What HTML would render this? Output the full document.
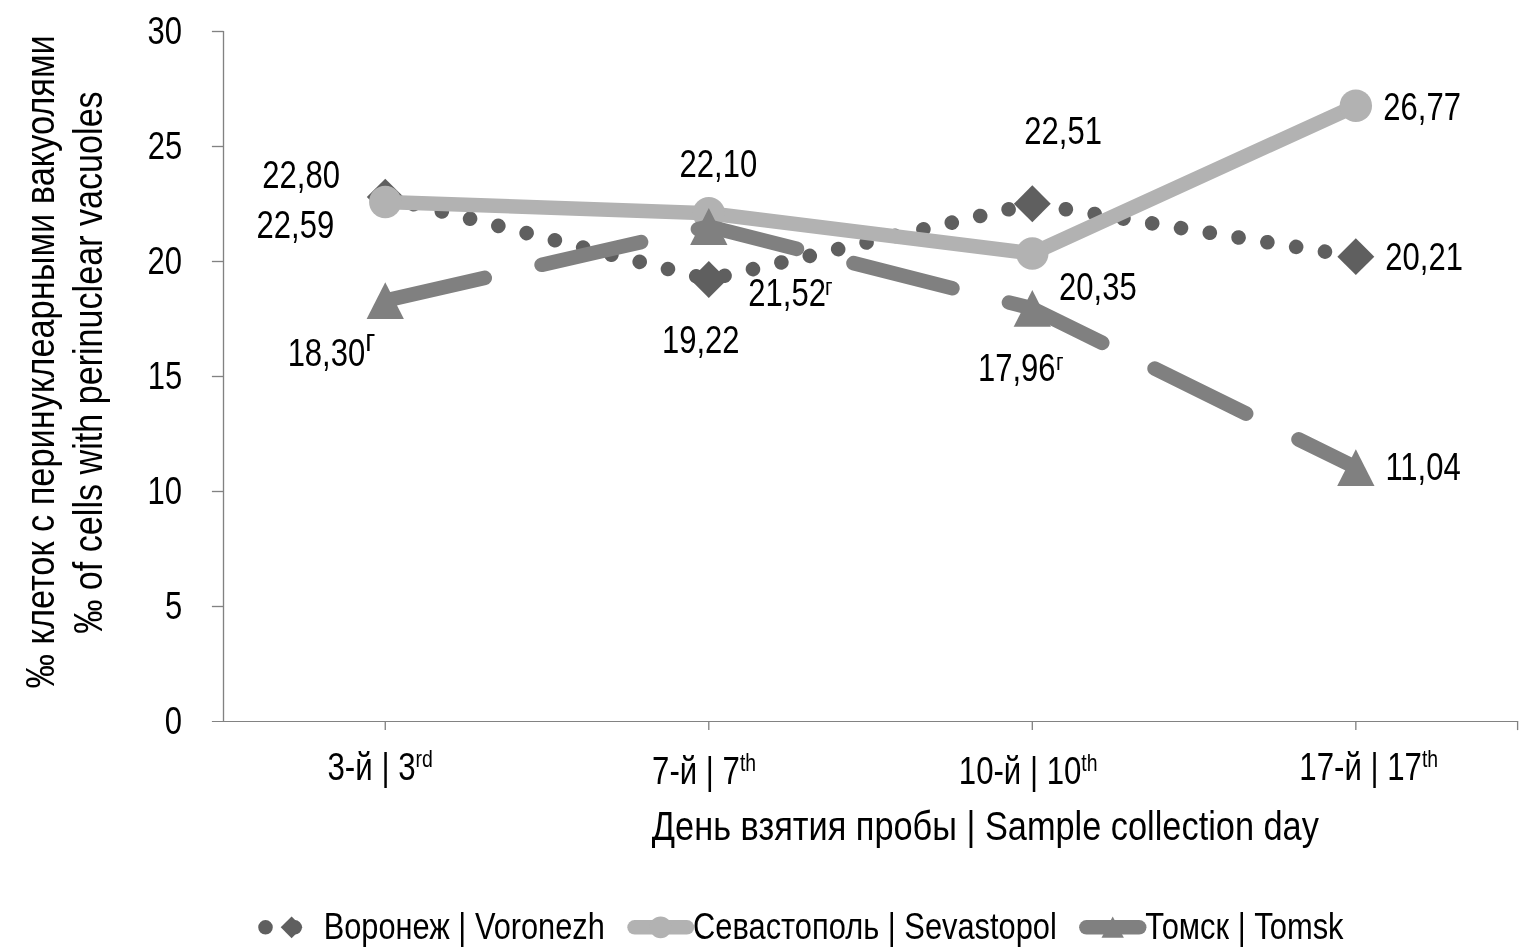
<!DOCTYPE html>
<html lang="ru">
<head>
<meta charset="utf-8">
<title>Perinuclear vacuoles chart</title>
<style>
html,body{margin:0;padding:0;background:#ffffff;}
body{width:1524px;height:950px;overflow:hidden;}
svg{display:block;}
text{font-family:"Liberation Sans", sans-serif;fill:#000000;white-space:pre;}
</style>
</head>
<body>
<svg width="1524" height="950" viewBox="0 0 1524 950">
<rect x="0" y="0" width="1524" height="950" fill="#ffffff"/>
<g stroke="#828282" stroke-width="1.33" fill="none">
<line x1="223.5" y1="30.95" x2="223.5" y2="722.05"/>
<line x1="211.9" y1="721.5" x2="1518.20" y2="721.5" stroke-width="1.1"/>
<line x1="211.9" y1="606.50" x2="223.5" y2="606.50"/>
<line x1="211.9" y1="491.50" x2="223.5" y2="491.50"/>
<line x1="211.9" y1="376.50" x2="223.5" y2="376.50"/>
<line x1="211.9" y1="261.50" x2="223.5" y2="261.50"/>
<line x1="211.9" y1="146.50" x2="223.5" y2="146.50"/>
<line x1="211.9" y1="31.50" x2="223.5" y2="31.50"/>
<line x1="385.26" y1="721.5" x2="385.26" y2="730.1"/>
<line x1="708.79" y1="721.5" x2="708.79" y2="730.1"/>
<line x1="1032.31" y1="721.5" x2="1032.31" y2="730.1"/>
<line x1="1355.84" y1="721.5" x2="1355.84" y2="730.1"/>
<line x1="1517.60" y1="721.5" x2="1517.60" y2="730.1"/>
</g>
<polyline points="385.26,197.10 708.79,279.44 1032.31,203.77 1355.84,256.67" fill="none" stroke="#5f5f5f" stroke-width="14.58" stroke-linecap="round" stroke-linejoin="round" stroke-dasharray="0.01 29.16"/>
<polygon points="385.26,178.65 403.71,197.10 385.26,215.55 366.81,197.10" fill="#5f5f5f"/>
<polygon points="708.79,260.99 727.24,279.44 708.79,297.89 690.34,279.44" fill="#5f5f5f"/>
<polygon points="1032.31,185.32 1050.76,203.77 1032.31,222.22 1013.86,203.77" fill="#5f5f5f"/>
<polygon points="1355.84,238.22 1374.29,256.67 1355.84,275.12 1337.39,256.67" fill="#5f5f5f"/>
<polyline points="385.26,201.93 708.79,213.20 1032.31,253.45 1355.84,105.79" fill="none" stroke="#b2b2b2" stroke-width="14.58" stroke-linecap="round" stroke-linejoin="round"/>
<circle cx="385.26" cy="201.93" r="16.2" fill="#b2b2b2"/>
<circle cx="708.79" cy="213.20" r="16.2" fill="#b2b2b2"/>
<circle cx="1032.31" cy="253.45" r="16.2" fill="#b2b2b2"/>
<circle cx="1355.84" cy="105.79" r="16.2" fill="#b2b2b2"/>
<polyline points="385.26,300.60 708.79,226.54 1032.31,308.42 1355.84,467.58" fill="none" stroke="#808080" stroke-width="14.58" stroke-linecap="round" stroke-linejoin="round" stroke-dasharray="102.06 58.32"/>
<polygon points="385.26,282.15 403.91,319.05 366.61,319.05" fill="#808080"/>
<polygon points="708.79,208.09 727.44,244.99 690.14,244.99" fill="#808080"/>
<polygon points="1032.31,289.97 1050.96,326.87 1013.66,326.87" fill="#808080"/>
<polygon points="1355.84,449.13 1374.49,486.03 1337.19,486.03" fill="#808080"/>
<line x1="265.5" y1="927.3" x2="318.8" y2="927.3" stroke="#5f5f5f" stroke-width="14.58" stroke-linecap="round" stroke-dasharray="0.01 29.16"/>
<polygon points="291.6,916.4 302.5,927.3 291.6,938.2 280.7,927.3" fill="#5f5f5f"/>
<line x1="634.6" y1="927.3" x2="686.9" y2="927.3" stroke="#b2b2b2" stroke-width="14.58" stroke-linecap="round"/>
<circle cx="660.6" cy="927.3" r="10.9" fill="#b2b2b2"/>
<line x1="1086.4" y1="927.3" x2="1139.2" y2="927.3" stroke="#808080" stroke-width="14.58" stroke-linecap="round"/>
<polygon points="1112.7,916.5 1123.9,937.7 1101.5,937.7" fill="#808080"/>
<g>
<text id="yl0" transform="translate(164.85,733.60) scale(0.8120,1)" font-size="38.20">0</text>
<text id="yl5" transform="translate(165.04,618.60) scale(0.8120,1)" font-size="38.20">5</text>
<text id="yl10" transform="translate(147.61,503.60) scale(0.8120,1)" font-size="38.20">10</text>
<text id="yl15" transform="translate(147.80,388.60) scale(0.8120,1)" font-size="38.20">15</text>
<text id="yl20" transform="translate(147.61,273.60) scale(0.8120,1)" font-size="38.20">20</text>
<text id="yl25" transform="translate(147.80,158.60) scale(0.8120,1)" font-size="38.20">25</text>
<text id="yl30" transform="translate(147.61,43.60) scale(0.8120,1)" font-size="38.20">30</text>
<text id="xl1" transform="translate(327.49,779.60) scale(0.8180,1)" font-size="38.20">3-й | 3<tspan font-size="23.8" dy="-12.2">rd</tspan></text>
<text id="xl2" transform="translate(652.11,783.80) scale(0.8158,1)" font-size="38.20">7-й | 7<tspan font-size="23.8" dy="-12.6">th</tspan></text>
<text id="xl3" transform="translate(958.81,783.80) scale(0.8160,1)" font-size="38.20">10-й | 10<tspan font-size="23.8" dy="-12.6">th</tspan></text>
<text id="xl4" transform="translate(1299.36,779.60) scale(0.8160,1)" font-size="38.20">17-й | 17<tspan font-size="23.8" dy="-12.6">th</tspan></text>
<text id="xt" transform="translate(651.86,839.50) scale(0.8439,1)" font-size="40.70">День взятия пробы | Sample collection day</text>
<text id="yt1" transform="translate(54.00,688.38) rotate(-90) scale(0.8446,1)" font-size="40.70">‰ клеток с перинуклеарными вакуолями</text>
<text id="yt2" transform="translate(102.40,633.80) rotate(-90) scale(0.8389,1)" font-size="40.70">‰ of cells with perinuclear vacuoles</text>
<text id="lg1" transform="translate(323.76,939.30) scale(0.8222,1)" font-size="37.40">Воронеж | Voronezh</text>
<text id="lg2" transform="translate(693.09,939.30) scale(0.8244,1)" font-size="37.40">Севастополь | Sevastopol</text>
<text id="lg3" transform="translate(1145.23,939.30) scale(0.8264,1)" font-size="37.40">Томск | Tomsk</text>
<text id="d1" transform="translate(262.31,188.00) scale(0.8120,1)" font-size="38.20">22,80</text>
<text id="d2" transform="translate(256.57,237.90) scale(0.8120,1)" font-size="38.20">22,59</text>
<text id="d3" transform="translate(287.63,365.70) scale(0.8120,1)" font-size="38.20">18,30</text>
<text id="d4" transform="translate(679.57,176.70) scale(0.8120,1)" font-size="38.20">22,10</text>
<text id="d5" transform="translate(661.97,352.60) scale(0.8120,1)" font-size="38.20">19,22</text>
<text id="d6" transform="translate(748.31,305.90) scale(0.8120,1)" font-size="38.20">21,52</text>
<text id="d7" transform="translate(1024.28,143.70) scale(0.8120,1)" font-size="38.20">22,51</text>
<text id="d8" transform="translate(1059.05,300.40) scale(0.8120,1)" font-size="38.20">20,35</text>
<text id="d9" transform="translate(977.94,380.90) scale(0.8120,1)" font-size="38.20">17,96</text>
<text id="d10" transform="translate(1383.31,119.90) scale(0.8120,1)" font-size="38.20">26,77</text>
<text id="d11" transform="translate(1385.28,269.70) scale(0.8120,1)" font-size="38.20">20,21</text>
<text id="d12" transform="translate(1385.39,480.30) scale(0.8120,1)" font-size="38.20">11,04</text>
<text id="s3" transform="translate(365.20,350.50) scale(0.8800,1)" font-size="31.40">г</text>
<text id="s6" transform="translate(825.05,294.50) scale(0.8800,1)" font-size="23.60">г</text>
<text id="s9" transform="translate(1056.07,369.70) scale(0.8800,1)" font-size="23.60">г</text>
</g>
</svg>
</body>
</html>
